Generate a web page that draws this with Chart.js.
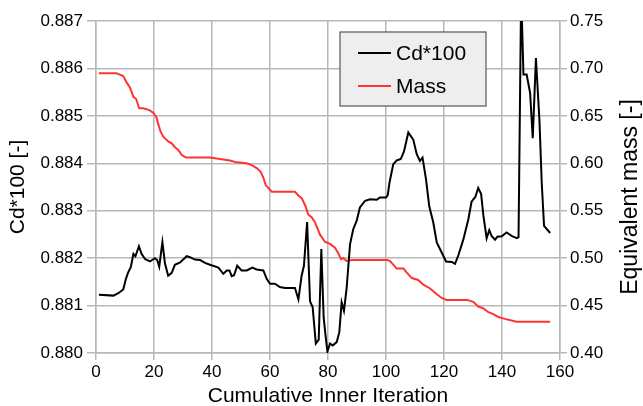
<!DOCTYPE html>
<html>
<head>
<meta charset="utf-8">
<script src="https://cdn.jsdelivr.net/npm/chart.js@4/dist/chart.umd.min.js"></script>
<style>
    html, body { margin: 0; padding: 0; background: #ffffff; }
    #wrap { width: 643px; height: 406px; }
</style>
</head>
<body>
<div id="wrap"><canvas id="cdChart" width="643" height="406"></canvas></div>
<script>
// Cd*100 history (cumulative inner iteration, value)
const cdIter = [1, 6, 7.7, 9.4, 10.3, 11.1, 12, 12.9, 13.6, 14.8, 15.7, 16.9, 18.6, 20.3, 21.1, 21.8, 22.9, 23.8, 24.9, 26.1,
    27.2, 29, 31.3, 32.4, 34.1, 35.9, 37.6, 39.3, 42.2, 43.9, 45.1, 46, 46.8, 47.6, 48.7, 50.2, 52, 53.9, 55.4, 57.7,
    58.9, 60, 61.7, 63.4, 65.2, 68.6, 69.8, 70.9, 71.7, 72.8, 73.8, 74.7, 75.8, 76.8, 77.7, 78.5, 79.1, 79.8, 80.7, 81.6,
    83, 83.9, 84.7, 85.5, 86.4, 87.6, 88.7, 89.9, 91, 92.8, 94.5, 96.8, 97.9, 100, 100.6, 101.2, 102.5, 103.7, 105.1, 106.2,
    107.7, 109.4, 110.6, 111.7, 112.6, 113.8, 114.9, 116.3, 117.5, 119.2, 120.7, 122.7, 123.8, 124.9, 126.7, 128.4, 129.5, 130.8, 131.8, 132.8,
    133.6, 134.7, 135.6, 136.4, 137.6, 138.4, 139.9, 141.6, 143.3, 145.1, 145.7, 146.6, 147.4, 148.5, 149.7, 150.6, 151.7, 152.9, 153.7, 154.5,
    156.6];
const cdValues = [0.88123, 0.88121, 0.88126, 0.88134, 0.88156, 0.88170, 0.88181, 0.88209, 0.88204, 0.88225, 0.88209, 0.88198, 0.88193, 0.88200, 0.88196, 0.88182, 0.88234, 0.88188, 0.88163, 0.88169,
    0.88186, 0.88191, 0.88204, 0.88202, 0.88197, 0.88196, 0.88190, 0.88186, 0.88180, 0.88167, 0.88174, 0.88174, 0.88162, 0.88164, 0.88184, 0.88174, 0.88174, 0.88180, 0.88176, 0.88174,
    0.88156, 0.88146, 0.88146, 0.88139, 0.88137, 0.88137, 0.88113, 0.88163, 0.88184, 0.88276, 0.88109, 0.88097, 0.88020, 0.88028, 0.88219, 0.88075, 0.88040, 0.88003, 0.88020, 0.88016,
    0.88023, 0.88044, 0.88107, 0.88089, 0.88135, 0.88229, 0.88261, 0.88279, 0.88307, 0.88321, 0.88324, 0.88323, 0.88328, 0.88328, 0.88333, 0.88359, 0.88398, 0.88406, 0.88409, 0.88425,
    0.88465, 0.88450, 0.88419, 0.88405, 0.88412, 0.88366, 0.88310, 0.88275, 0.88233, 0.88212, 0.88193, 0.88192, 0.88188, 0.88205, 0.88240, 0.88282, 0.88319, 0.88329, 0.88348, 0.88335,
    0.88289, 0.88242, 0.88259, 0.88247, 0.88239, 0.88245, 0.88246, 0.88254, 0.88247, 0.88242, 0.88244, 0.88760, 0.88587, 0.88587, 0.88548, 0.88453, 0.88622, 0.88492, 0.88359, 0.88268,
    0.88253];

// Equivalent mass history
const massIter = [1, 7, 9.4, 10.6, 11.7, 12.9, 13.8, 14.9, 16.3, 18.4, 19.8, 20.9, 21.5, 22.3, 23.2, 24.9, 26.1, 27.2, 28.4, 29.5,
    31, 39.3, 41.6, 46.2, 48.5, 51.9, 53.7, 55.4, 56.8, 57.7, 58.5, 59.4, 60.6, 68.6, 69.8, 71, 72.2, 73.2, 74.4, 75.5,
    77.2, 79, 80.7, 82.4, 83.6, 84.5, 85.3, 86.4, 88.2, 100.5, 101.4, 103.7, 106, 107.1, 108.9, 111.1, 112.9, 115.2, 117.5, 119.2,
    120.9, 128, 130.1, 131.8, 133.6, 135.3, 137, 138.7, 141, 145, 156.6];
const massValues = [0.695, 0.695, 0.692, 0.685, 0.680, 0.670, 0.668, 0.658, 0.658, 0.656, 0.653, 0.648, 0.641, 0.633, 0.628, 0.623, 0.621, 0.617, 0.614, 0.609,
    0.606, 0.606, 0.605, 0.603, 0.601, 0.600, 0.598, 0.595, 0.591, 0.585, 0.577, 0.574, 0.570, 0.570, 0.566, 0.563, 0.555, 0.546, 0.543, 0.538,
    0.525, 0.517, 0.515, 0.511, 0.505, 0.499, 0.500, 0.497, 0.498, 0.498, 0.497, 0.489, 0.489, 0.485, 0.479, 0.477, 0.472, 0.468, 0.462, 0.458,
    0.456, 0.456, 0.454, 0.449, 0.447, 0.443, 0.441, 0.438, 0.436, 0.433, 0.433];

// tick labels
const xTicks = [0, 20, 40, 60, 80, 100, 120, 140, 160];
const cdTicks = [0.880, 0.881, 0.882, 0.883, 0.884, 0.885, 0.886, 0.887];
const massTicks = [0.40, 0.45, 0.50, 0.55, 0.60, 0.65, 0.70, 0.75];

const seriesNames = ["Cd*100", "Mass"];
const seriesColors = ["#000000", "#ff3333"];

const FONT = "'Liberation Sans', Arial, sans-serif";
const GRID = "#b8b8b8";

function toPoints(xs, ys) {
    return xs.map(function (x, i) {
        return { x: x, y: ys[i] };
    });
}

function fixedTicks(values) {
    return function (scale) {
        scale.ticks = values.map(function (v) {
            return { value: v };
        });
    };
}

// legend box inside the plot, drawn by hand
const boxLegend = {
    id: "boxLegend",
    afterDraw: function (chart) {
        const ctx = chart.ctx;
        ctx.save();
        ctx.fillStyle = "#eeeeee";
        ctx.fillRect(340, 32, 146, 74);
        ctx.strokeStyle = "#555555";
        ctx.lineWidth = 1.2;
        ctx.strokeRect(340, 32, 146, 74);
        ctx.font = "21px " + FONT;
        ctx.textBaseline = "middle";
        ctx.textAlign = "left";
        chart.data.datasets.forEach(function (ds, i) {
            const y = 53 + i * 33;
            ctx.strokeStyle = ds.borderColor;
            ctx.lineWidth = 2;
            ctx.beginPath();
            ctx.moveTo(358, y);
            ctx.lineTo(391, y);
            ctx.stroke();
            ctx.fillStyle = "#000000";
            ctx.fillText(ds.label, 396, y + 1);
        });
        ctx.restore();
    },
};

// right axis title reads bottom-to-top like the left one
const rightTitle = {
    id: "rightTitle",
    afterDraw: function (chart) {
        const ctx = chart.ctx;
        const area = chart.chartArea;
        ctx.save();
        ctx.translate(631, (area.top + area.bottom) / 2 + 10);
        ctx.rotate(-Math.PI / 2);
        ctx.font = "23px " + FONT;
        ctx.fillStyle = "#000000";
        ctx.textAlign = "center";
        ctx.textBaseline = "middle";
        ctx.fillText("Equivalent mass [-]", 0, 0);
        ctx.restore();
    },
};

const ctx = document.getElementById("cdChart").getContext("2d");
new Chart(ctx, {
    type: "line",
    data: {
        datasets: [
            {
                label: seriesNames[0],
                data: toPoints(cdIter, cdValues),
                borderColor: seriesColors[0],
                borderWidth: 2,
                pointRadius: 0,
                tension: 0,
                yAxisID: "y",
            },
            {
                label: seriesNames[1],
                data: toPoints(massIter, massValues),
                borderColor: seriesColors[1],
                borderWidth: 2,
                pointRadius: 0,
                tension: 0,
                yAxisID: "y2",
            },
        ],
    },
    options: {
        responsive: false,
        animation: false,
        layout: {
            padding: { top: 21, right: 0, bottom: 0, left: 0 },
        },
        plugins: {
            legend: { display: false },
            tooltip: { enabled: false },
        },
        scales: {
            x: {
                type: "linear",
                min: 0,
                max: 160,
                afterBuildTicks: fixedTicks(xTicks),
                afterFit: function (scale) {
                    scale.height = 53;
                },
                ticks: {
                    color: "#000000",
                    padding: 2,
                    font: { family: FONT, size: 17 },
                },
                grid: { color: GRID, lineWidth: 1.5, tickLength: 7 },
                border: { color: GRID, width: 1.5 },
                title: {
                    display: true,
                    text: "Cumulative Inner Iteration",
                    color: "#000000",
                    font: { family: FONT, size: 21, lineHeight: 1 },
                    padding: { top: 0, bottom: -1 },
                },
            },
            y: {
                position: "left",
                min: 0.88,
                max: 0.887,
                afterBuildTicks: fixedTicks(cdTicks),
                afterFit: function (scale) {
                    scale.width = 96;
                },
                ticks: {
                    color: "#000000",
                    padding: 4,
                    font: { family: FONT, size: 17 },
                    callback: function (v) {
                        return v.toFixed(3);
                    },
                },
                grid: { color: GRID, lineWidth: 1.5, tickLength: 9 },
                border: { color: GRID, width: 1.5 },
                title: {
                    display: true,
                    text: "Cd*100 [-]",
                    color: "#000000",
                    font: { family: FONT, size: 21, lineHeight: 1 },
                    padding: { top: 8, bottom: 0 },
                },
            },
            y2: {
                position: "right",
                min: 0.4,
                max: 0.75,
                afterBuildTicks: fixedTicks(massTicks),
                afterFit: function (scale) {
                    scale.width = 83;
                },
                ticks: {
                    color: "#000000",
                    padding: 3,
                    font: { family: FONT, size: 17 },
                    callback: function (v) {
                        return v.toFixed(2);
                    },
                },
                grid: { drawOnChartArea: false, color: GRID, lineWidth: 1.5, tickLength: 7 },
                border: { color: GRID, width: 1.5 },
            },
        },
    },
    plugins: [boxLegend, rightTitle],
});
</script>
</body>
</html>
